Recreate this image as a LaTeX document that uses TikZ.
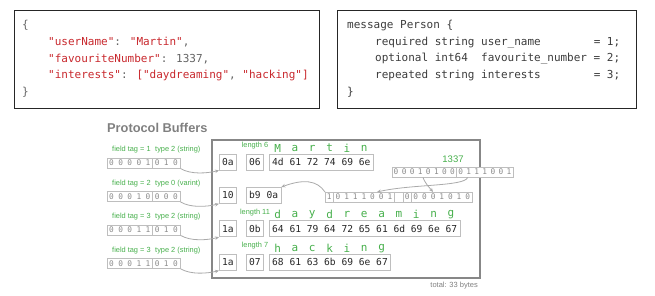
\documentclass[tikz,border=0pt]{standalone}
\usepackage{fontspec}
\setmainfont{Liberation Sans}
\newfontfamily\codefont{DejaVu Sans Mono}
\usetikzlibrary{arrows.meta,calc}
\definecolor{jred}{RGB}{200,40,45}
\definecolor{jgray}{RGB}{100,100,100}
\definecolor{ptext}{RGB}{60,60,60}
\definecolor{pbgreen}{RGB}{70,175,75}
\definecolor{bitgray}{RGB}{190,190,190}
\definecolor{bitdig}{RGB}{140,140,140}
\definecolor{conncol}{RGB}{170,170,170}
\definecolor{framecol}{RGB}{135,135,135}
\definecolor{titlecol}{RGB}{128,128,128}
\tikzset{
 codebox/.style={draw=black!85, line width=1.4pt, inner sep=0pt, anchor=north west},
 codeline/.style={anchor=west, inner sep=0pt, font=\codefont\fontsize{11}{13}\selectfont},
 hexbox/.style={draw=bitgray, line width=0.8pt, fill=white, inner xsep=2.8pt, inner ysep=0pt,
   minimum height=16pt, text height=7pt, text depth=0pt, anchor=west, text=black!85,
   font=\codefont\fontsize{9.6}{10}\selectfont},
 lbl/.style={inner sep=0pt, text=pbgreen, font=\fontsize{7.4}{8}\selectfont},
 gletter/.style={inner sep=0pt, text=pbgreen, font=\codefont\fontsize{11}{12}\selectfont},
 bitdigit/.style={inner sep=0pt, text=bitdig, font=\codefont\fontsize{7.8}{8}\selectfont},
 connector/.style={draw=conncol, line width=0.8pt, -{Stealth[length=4pt,width=3.5pt]}},
}
\newcommand\bitrow[7]{%
  \node[draw=bitgray, fill=white, line width=0.6pt, inner sep=0pt, minimum width=#4*#5,
        minimum height=10, anchor=north west] (#1) at (#2,#3) {};
  \foreach \bd [count=\bi from 0] in {#6} {\node[bitdigit] at ({#2+#4*(\bi+0.5)},{#3+5}) {\bd};}
  \foreach \bk in {#7} {\draw[draw=bitgray, line width=0.6pt] ({#2+#4*\bk},#3) -- ++(0,10);}
}
\newcommand\gletters[3]{% #1 left x of data box, #2 y, #3 letters
  \foreach \gc [count=\gi from 0] in {#3} {\node[gletter] at ({#1+2.8+(3*\gi+1)*5.78},#2) {\gc};}
}
\begin{document}
\begin{tikzpicture}[x=1pt,y=-1pt]
\useasboundingbox (0,0) rectangle (655,296);

% JSON box
\node[codebox, minimum width=305, minimum height=98] (jsonbox) at (14,10) {};
\node[codeline, text=jgray] (j0) at (22,25) {\{};
\node[codeline] (j1) at (48,42) {\textcolor{jred}{"userName"}\textcolor{jgray}{:} \textcolor{jred}{"Martin"}\textcolor{jgray}{,}};
\node[codeline] (j2) at (48,59) {\textcolor{jred}{"favouriteNumber"}\textcolor{jgray}{: 1337,}};
\node[codeline] (j3) at (48,76) {\textcolor{jred}{"interests"}\textcolor{jgray}{:} \textcolor{jred}{["daydreaming"}\textcolor{jgray}{,} \textcolor{jred}{"hacking"]}};
\node[codeline, text=jgray] (j4) at (22,92) {\}};

% Proto box
\node[codebox, minimum width=299, minimum height=98] (protobox) at (337,10) {};
\node[codeline, text=ptext] (p0) at (347,26) {message Person \{};
\node[codeline, text=ptext] (p1) at (375,43) {required string user\_name~~~~~~~~=~1;};
\node[codeline, text=ptext] (p2) at (375,59) {optional int64~~favourite\_number =~2;};
\node[codeline, text=ptext] (p3) at (375,76) {repeated string interests~~~~~~~~=~3;};
\node[codeline, text=ptext] (p4) at (347,92) {\}};

% Title
\node[anchor=west, inner sep=0pt, text=titlecol, font=\bfseries\fontsize{12.8}{14}\selectfont] (title) at (107,128) {Protocol Buffers};

% Frame
\node[draw=framecol, line width=2pt, minimum width=268, minimum height=138, anchor=north west, inner sep=0pt] (pbframe) at (211,139) {};

% Left labels and bit rows
\node[lbl, anchor=west] (ft1) at (112,150) {field tag = 1};
\node[lbl, anchor=west] (ty1) at (155,150) {type 2 (string)};
\bitrow{b1}{107}{158}{9.125}{8}{0,0,0,0,1,0,1,0}{5}
\node[lbl, anchor=west] (ft2) at (112,183.4) {field tag = 2};
\node[lbl, anchor=west] (ty2) at (155,183.4) {type 0 (varint)};
\bitrow{b2}{107}{191.4}{9.125}{8}{0,0,0,1,0,0,0,0}{5}
\node[lbl, anchor=west] (ft3) at (112,216.8) {field tag = 3};
\node[lbl, anchor=west] (ty3) at (155,216.8) {type 2 (string)};
\bitrow{b3}{107}{224.8}{9.125}{8}{0,0,0,1,1,0,1,0}{5}
\node[lbl, anchor=west] (ft4) at (112,250.2) {field tag = 3};
\node[lbl, anchor=west] (ty4) at (155,250.2) {type 2 (string)};
\bitrow{b4}{107}{258.2}{9.125}{8}{0,0,0,1,1,0,1,0}{5}

% Byte rows
\node[hexbox] (t1) at (219,162) {0a};
\node[hexbox] (l1) at (246,162) {06};
\node[hexbox] (d1) at (269,162) {4d 61 72 74 69 6e};
\node[lbl] (len1) at ([yshift=8pt]l1.north) {length 6};
\gletters{269}{148}{M,a,r,t,i,n}

\node[hexbox] (t2) at (219,195.4) {10};
\node[hexbox] (v2) at (246,195.4) {b9 0a};

\node[hexbox] (t3) at (219,228.8) {1a};
\node[hexbox] (l3) at (246,228.8) {0b};
\node[hexbox] (d3) at (269,228.8) {64 61 79 64 72 65 61 6d 69 6e 67};
\node[lbl] (len3) at ([yshift=8pt]l3.north) {length 11};
\gletters{269}{214.8}{d,a,y,d,r,e,a,m,i,n,g}

\node[hexbox] (t4) at (219,262.2) {1a};
\node[hexbox] (l4) at (246,262.2) {07};
\node[hexbox] (d4) at (269,262.2) {68 61 63 6b 69 6e 67};
\node[lbl] (len4) at ([yshift=8pt]l4.north) {length 7};
\gletters{269}{248.2}{h,a,c,k,i,n,g}

% 1337 varint
\node[inner sep=0pt, text=pbgreen, font=\fontsize{9.5}{10}\selectfont] (n1337) at (453,159) {1337};
\bitrow{nb}{392}{167}{8.07}{15}{0,0,0,1,0,1,0,0,0,1,1,1,0,0,1}{8}
\bitrow{vb}{325}{192}{8.65}{17}{1,0,1,1,1,0,0,1,{\phantom{0}},0,0,0,0,1,0,1,0}{1,8,9,10}

% connectors
\draw[connector] (b1.south east) .. controls +(10,6) and +(-12,3) .. (t1.south west);
\draw[connector] (b2.south east) .. controls +(10,6) and +(-12,3) .. (t2.south west);
\draw[connector] (b3.south east) .. controls +(10,6) and +(-12,3) .. (t3.south west);
\draw[connector] (b4.south east) .. controls +(10,6) and +(-12,3) .. (t4.south west);
\draw[connector] ([xshift=-46pt]nb.south east) .. controls +(-4,9) and +(35,-8) .. ([xshift=52pt]vb.north west);
\draw[connector] ([xshift=31pt]nb.south west) .. controls +(3,7) and +(-4,-5) .. ([xshift=108pt]vb.north west);
\draw[connector] (vb.north west) .. controls +(-8,-12) and +(22,-8) .. (v2.north east);

% total
\node[anchor=east, inner sep=0pt, text=titlecol, font=\fontsize{7.5}{8}\selectfont] (total) at (478,286) {total: 33 bytes};
\end{tikzpicture}
\end{document}
